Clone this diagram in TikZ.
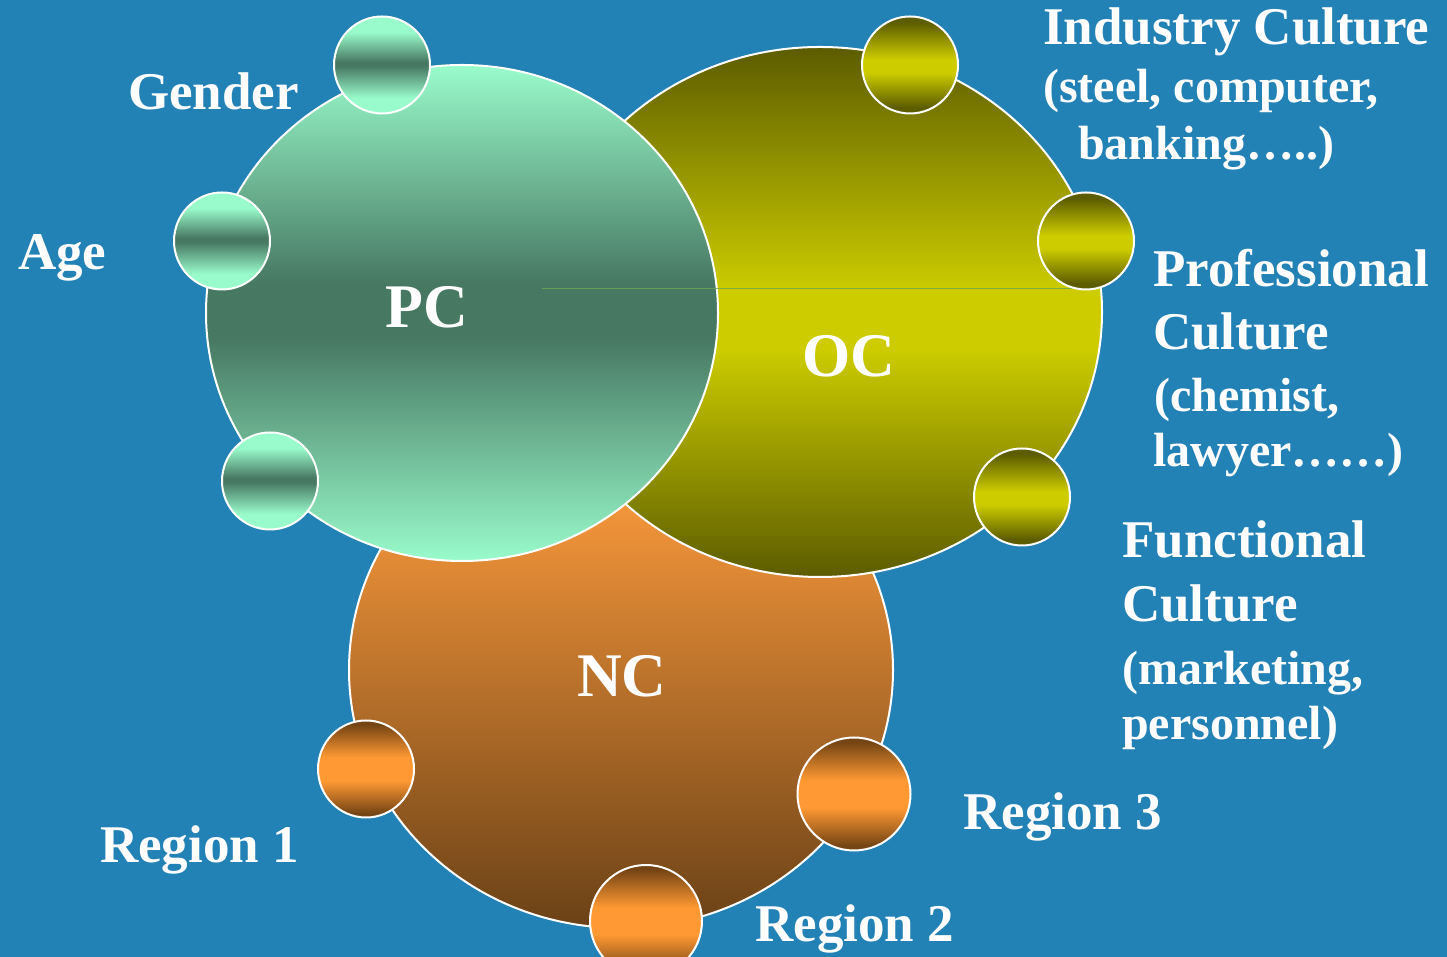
\documentclass[tikz,border=0pt]{standalone}
\usepackage{fontspec}
\setmainfont{Liberation Serif}
\usetikzlibrary{shapes.geometric}
\definecolor{bg}{RGB}{34,129,181}
\definecolor{pcL}{HTML}{99FBCB}
\definecolor{pcD}{HTML}{477862}
\definecolor{ocD}{HTML}{5C5C00}
\definecolor{ocY}{HTML}{CCCC00}
\definecolor{ncT}{HTML}{F3953A}
\definecolor{ncB}{HTML}{6A4116}
\definecolor{nsB}{HTML}{744414}
\definecolor{nsO}{HTML}{FF9933}
\definecolor{seam}{RGB}{110,165,80}
\pgfdeclareverticalshading{pcbig}{100bp}{color(0bp)=(pcL); color(25bp)=(pcL); color(47.5bp)=(pcD); color(53bp)=(pcD); color(75bp)=(pcL); color(100bp)=(pcL)}
\pgfdeclareverticalshading{ocbig}{100bp}{color(0bp)=(ocD); color(25bp)=(ocD); color(46.5bp)=(ocY); color(52bp)=(ocY); color(75bp)=(ocD); color(100bp)=(ocD)}
\pgfdeclareverticalshading{ncbig}{100bp}{color(0bp)=(ncB); color(25bp)=(ncB); color(66bp)=(ncT); color(75bp)=(ncT); color(100bp)=(ncT)}
\pgfdeclareverticalshading{pcsmall}{100bp}{color(0bp)=(pcL); color(25bp)=(pcL); color(33bp)=(pcL); color(49.5bp)=(pcD); color(51.5bp)=(pcD); color(67bp)=(pcL); color(75bp)=(pcL); color(100bp)=(pcL)}
\pgfdeclareverticalshading{ocsmall}{100bp}{color(0bp)=(ocD); color(25bp)=(ocD); color(28bp)=(ocD); color(46bp)=(ocY); color(53bp)=(ocY); color(72bp)=(ocD); color(75bp)=(ocD); color(100bp)=(ocD)}
\pgfdeclareverticalshading{ncsmall}{100bp}{color(0bp)=(nsB); color(25bp)=(nsB); color(27bp)=(nsB); color(44bp)=(nsO); color(56bp)=(nsO); color(73bp)=(nsB); color(75bp)=(nsB); color(100bp)=(nsB)}
\begin{document}
\begin{tikzpicture}[x=1pt,y=1pt,
  bubble/.style={ellipse, draw=white, line width=2pt, inner sep=0pt},
  lbl/.style={text=white, font=\fontsize{53}{59}\selectfont\bfseries, anchor=base west, inner sep=0pt},
  sublbl/.style={text=white, font=\fontsize{48}{54}\selectfont\bfseries, anchor=base west, inner sep=0pt},
  biglbl/.style={text=white, font=\fontsize{62}{70}\selectfont\bfseries, anchor=base, inner sep=0pt}]
\useasboundingbox (0,0) rectangle (1447,957);
\fill[bg] (0,0) rectangle (1447,957);
% big circles
\node[bubble, shading=ncbig, minimum width=544, minimum height=516] (nc) at (621,287) {};
\node[bubble, shading=ocbig, minimum width=564, minimum height=530] (oc) at (820,645) {};
\node[bubble, shading=pcbig, minimum width=512, minimum height=496] (pc) at (462,644) {};
\coordinate (seamA) at (542,668);
\coordinate (seamB) at (1100,668);
\draw[seam, line width=1pt, opacity=0.8] (seamA) -- (seamB);
% small circles
\node[bubble, shading=pcsmall, minimum width=96, minimum height=97] (gender) at (382,892) {};
\node[bubble, shading=pcsmall, minimum width=96, minimum height=97] (age) at (222,716) {};
\node[bubble, shading=pcsmall, minimum width=96, minimum height=97] (pcthree) at (270,476) {};
\node[bubble, shading=ocsmall, minimum width=96, minimum height=97] (industry) at (910,892) {};
\node[bubble, shading=ocsmall, minimum width=96, minimum height=97] (prof) at (1086,716) {};
\node[bubble, shading=ocsmall, minimum width=96, minimum height=97] (func) at (1022,460) {};
\node[bubble, shading=ncsmall, minimum width=96, minimum height=97] (reg1) at (366,188) {};
\node[bubble, shading=ncsmall, minimum width=113, minimum height=113] (reg3) at (854,163) {};
\node[bubble, shading=ncsmall, minimum width=112, minimum height=112] (reg2) at (646,36) {};
% big labels
\node[biglbl] (pct) at (427,629) {PC};
\node[biglbl] (oct) at (849,580) {OC};
\node[biglbl] (nct) at (622,260) {NC};
% labels
\node[lbl] (tgender) at (128,847) {Gender};
\node[lbl] (tage) at (18,687) {Age};
\node[lbl] (tind1) at (1043,912) {Industry Culture};
\node[sublbl] (tind2) at (1043,854) {(steel, computer,};
\node[sublbl] (tind3) at (1078,797) {banking…..)};
\node[lbl] (tpro1) at (1153,670) {Professional};
\node[lbl] (tpro2) at (1153,607) {Culture};
\node[sublbl] (tpro3) at (1154,545) {(chemist,};
\node[sublbl] (tpro4) at (1153,490) {lawyer……)};
\node[lbl] (tfun1) at (1122,399) {Functional};
\node[lbl] (tfun2) at (1122,335) {Culture};
\node[sublbl] (tfun3) at (1122,272) {(marketing,};
\node[sublbl] (tfun4) at (1122,217) {personnel)};
\node[lbl] (treg1) at (100,94) {Region 1};
\node[lbl] (treg3) at (963,127) {Region 3};
\node[lbl] (treg2) at (755,15) {Region 2};
\end{tikzpicture}
\end{document}
